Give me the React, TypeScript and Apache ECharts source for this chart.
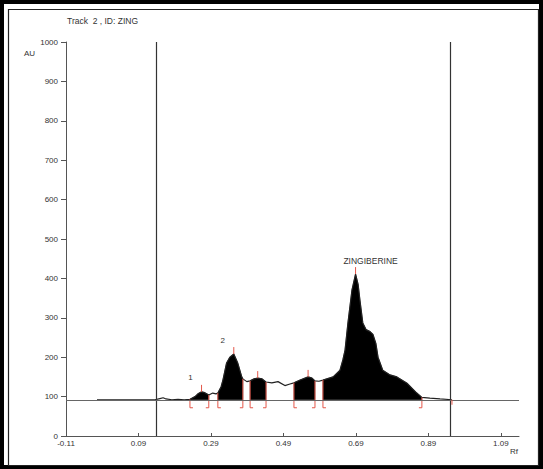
import React, { useEffect, useRef } from 'react';
import * as echarts from 'echarts';

// Densitometric trace (Rf, AU)
const traceRf = [
  -0.0245, 0.1355, 0.149, 0.158, 0.166, 0.182, 0.199, 0.216, 0.232, 0.246, 0.254, 0.264,
  0.273, 0.284, 0.295, 0.304, 0.309, 0.318, 0.323, 0.333, 0.342, 0.353, 0.364, 0.375,
  0.378, 0.389, 0.398, 0.409, 0.419, 0.431, 0.442, 0.458, 0.475, 0.494, 0.508, 0.519,
  0.536, 0.558, 0.569, 0.577, 0.588, 0.599, 0.627, 0.646, 0.654, 0.66, 0.668, 0.679,
  0.689, 0.696, 0.701, 0.709, 0.718, 0.729, 0.737, 0.745, 0.751, 0.764, 0.784, 0.803,
  0.831, 0.858, 0.872, 0.894, 0.922, 0.955,
];
const traceAU = [
  92, 92, 95, 97, 94, 92, 93, 92, 93, 100, 107, 112,
  110, 104, 109, 107, 109, 125, 142, 185, 200, 208, 185, 150,
  145, 138, 140, 145, 147, 145, 137, 135, 138, 128, 132, 135,
  142, 150, 147, 140, 139, 142, 150, 167, 193, 218, 287, 370,
  411, 385, 345, 287, 270, 265, 258, 235, 200, 167, 155, 150,
  134, 109, 98, 96, 94, 92,
];
const baselineAU = 92;

// Integrated peak regions
const regionStart = [0.232, 0.309, 0.398, 0.519, 0.599];
const regionEnd = [0.284, 0.378, 0.442, 0.577, 0.872];

// Peak maxima
const peakRf = [0.264, 0.353, 0.419, 0.558, 0.689];
const peakAU = [112, 208, 147, 150, 411];
const peakNames = ['1', '2', '', '', 'ZINGIBERINE'];

// Axis
const xTicks = [-0.11, 0.09, 0.29, 0.49, 0.69, 0.89, 1.09];
const trackLines = [0.1355, 0.955];
const endMarkRf = 0.955;

const RED = '#e4574a';
const FONT = '"Liberation Sans", Arial, sans-serif';

function valueAt(rf: number): number {
  for (let i = 0; i < traceRf.length - 1; i++) {
    if (rf >= traceRf[i] && rf <= traceRf[i + 1]) {
      const t = (rf - traceRf[i]) / (traceRf[i + 1] - traceRf[i] || 1);
      return traceAU[i] + t * (traceAU[i + 1] - traceAU[i]);
    }
  }
  return baselineAU;
}

export default function App() {
  const ref = useRef<HTMLDivElement>(null);
  useEffect(() => {
    if (!ref.current) return;
    const chart = echarts.init(ref.current, undefined, { renderer: 'svg' });

    const tracePts = traceRf.map((x, i) => [x, traceAU[i]]);
    const regionData = regionStart.map((s, i) => [s, regionEnd[i]]);
    const boundaryData: number[][] = [];
    regionStart.forEach((s, i) => {
      boundaryData.push([s, 0]);
      boundaryData.push([regionEnd[i], 1]);
    });
    const peakData = peakRf.map((x, i) => [x, peakAU[i], i]);

    const option: any = {
      animation: false,
      backgroundColor: '#fff',
      grid: { left: 66, right: 24, top: 42, bottom: 33 },
      xAxis: {
        type: 'value',
        min: -0.11,
        max: 1.14,
        axisLine: { onZero: false, lineStyle: { color: '#555', width: 1 } },
        axisTick: { inside: true, length: 3, customValues: xTicks, lineStyle: { color: '#555' } },
        axisLabel: {
          customValues: xTicks,
          formatter: (v: number) => v.toFixed(2),
          fontSize: 8,
          color: '#333',
          fontFamily: FONT,
          margin: 3,
        },
        splitLine: { show: false },
      },
      yAxis: {
        type: 'value',
        min: 0,
        max: 1000,
        interval: 100,
        axisLine: { show: true, onZero: false, lineStyle: { color: '#555', width: 1 } },
        axisTick: { show: true, length: 5, lineStyle: { color: '#555' } },
        axisLabel: { fontSize: 8, color: '#333', fontFamily: FONT, margin: 8, formatter: (v: number) => String(v) },
        splitLine: { show: false },
      },
      graphic: [
        { type: 'rect', shape: { x: 2, y: 2, width: 539, height: 465 }, style: { fill: 'none', stroke: '#000', lineWidth: 4 }, silent: true },
        { type: 'rect', shape: { x: 8.5, y: 9.5, width: 530, height: 456 }, style: { fill: 'none', stroke: '#222', lineWidth: 1.2 }, silent: true },
        { type: 'text', left: 67, top: 16, style: { text: 'Track  2 , ID: ZING', fontSize: 8.5, fill: '#333', fontFamily: FONT } },
        { type: 'text', left: 24, top: 49, style: { text: 'AU', fontSize: 8, fill: '#333', fontFamily: FONT } },
        { type: 'text', left: 510, top: 447, style: { text: 'Rf', fontSize: 8, fill: '#333', fontFamily: FONT } },
      ],
      series: [
        {
          type: 'custom',
          name: 'areas',
          data: regionData,
          silent: true,
          renderItem: (params: any, api: any) => {
            const s = api.value(0);
            const e = api.value(1);
            const pts: number[][] = [];
            pts.push(api.coord([s, baselineAU]));
            pts.push(api.coord([s, valueAt(s)]));
            for (let i = 0; i < traceRf.length; i++) {
              if (traceRf[i] > s && traceRf[i] < e) pts.push(api.coord([traceRf[i], traceAU[i]]));
            }
            pts.push(api.coord([e, valueAt(e)]));
            pts.push(api.coord([e, baselineAU]));
            return { type: 'polygon', shape: { points: pts }, style: { fill: '#000', stroke: '#000', lineWidth: 0.5 } };
          },
          z: 2,
        },
        {
          type: 'line',
          name: 'trace',
          data: tracePts,
          showSymbol: false,
          lineStyle: { color: '#222', width: 1.2 },
          silent: true,
          z: 3,
          markLine: {
            silent: true,
            symbol: 'none',
            label: { show: false },
            data: [
              { xAxis: trackLines[0], lineStyle: { color: '#333', width: 1.2, type: 'solid' } },
              { xAxis: trackLines[1], lineStyle: { color: '#333', width: 1.2, type: 'solid' } },
              { yAxis: baselineAU, lineStyle: { color: '#666', width: 1, type: 'solid' } },
            ],
          },
        },
        {
          type: 'custom',
          name: 'boundaries',
          data: boundaryData,
          silent: true,
          z: 4,
          renderItem: (params: any, api: any) => {
            const rf = api.value(0);
            const side = api.value(1);
            const top = api.coord([rf, valueAt(rf)]);
            const base = api.coord([rf, baselineAU]);
            const bottom = base[1] + 8;
            const dir = side === 0 ? 3 : -3;
            return {
              type: 'group',
              children: [
                { type: 'line', shape: { x1: top[0], y1: top[1], x2: top[0], y2: bottom }, style: { stroke: RED, lineWidth: 1 } },
                { type: 'line', shape: { x1: top[0], y1: bottom, x2: top[0] + dir, y2: bottom }, style: { stroke: RED, lineWidth: 1 } },
              ],
            };
          },
        },
        {
          type: 'custom',
          name: 'peaks',
          data: peakData,
          silent: true,
          z: 5,
          renderItem: (params: any, api: any) => {
            const p = api.coord([api.value(0), api.value(1)]);
            const idx = api.value(2);
            const name = peakNames[idx];
            const children: any[] = [
              { type: 'line', shape: { x1: p[0], y1: p[1], x2: p[0], y2: p[1] - 7 }, style: { stroke: RED, lineWidth: 1 } },
            ];
            if (name) {
              const big = name.length > 2;
              children.push({
                type: 'text',
                x: big ? p[0] + 15 : p[0] - 11,
                y: p[1] - (big ? 13 : 14),
                style: { text: name, fontSize: big ? 8.5 : 8, fill: '#333', fontFamily: FONT, align: 'center', verticalAlign: 'middle' },
              });
            }
            return { type: 'group', children };
          },
        },
        {
          type: 'custom',
          name: 'end',
          data: [[endMarkRf, baselineAU]],
          silent: true,
          z: 5,
          renderItem: (params: any, api: any) => {
            const p = api.coord([api.value(0), api.value(1)]);
            return { type: 'line', shape: { x1: p[0], y1: p[1], x2: p[0], y2: p[1] + 5 }, style: { stroke: RED, lineWidth: 1 } };
          },
        },
      ],
    };
    chart.setOption(option);
    return () => chart.dispose();
  }, []);
  return (
    <div
      ref={ref}
      style={{ position: 'fixed', left: 0, top: 0, width: 543, height: 469, background: '#fff' }}
    />
  );
}
